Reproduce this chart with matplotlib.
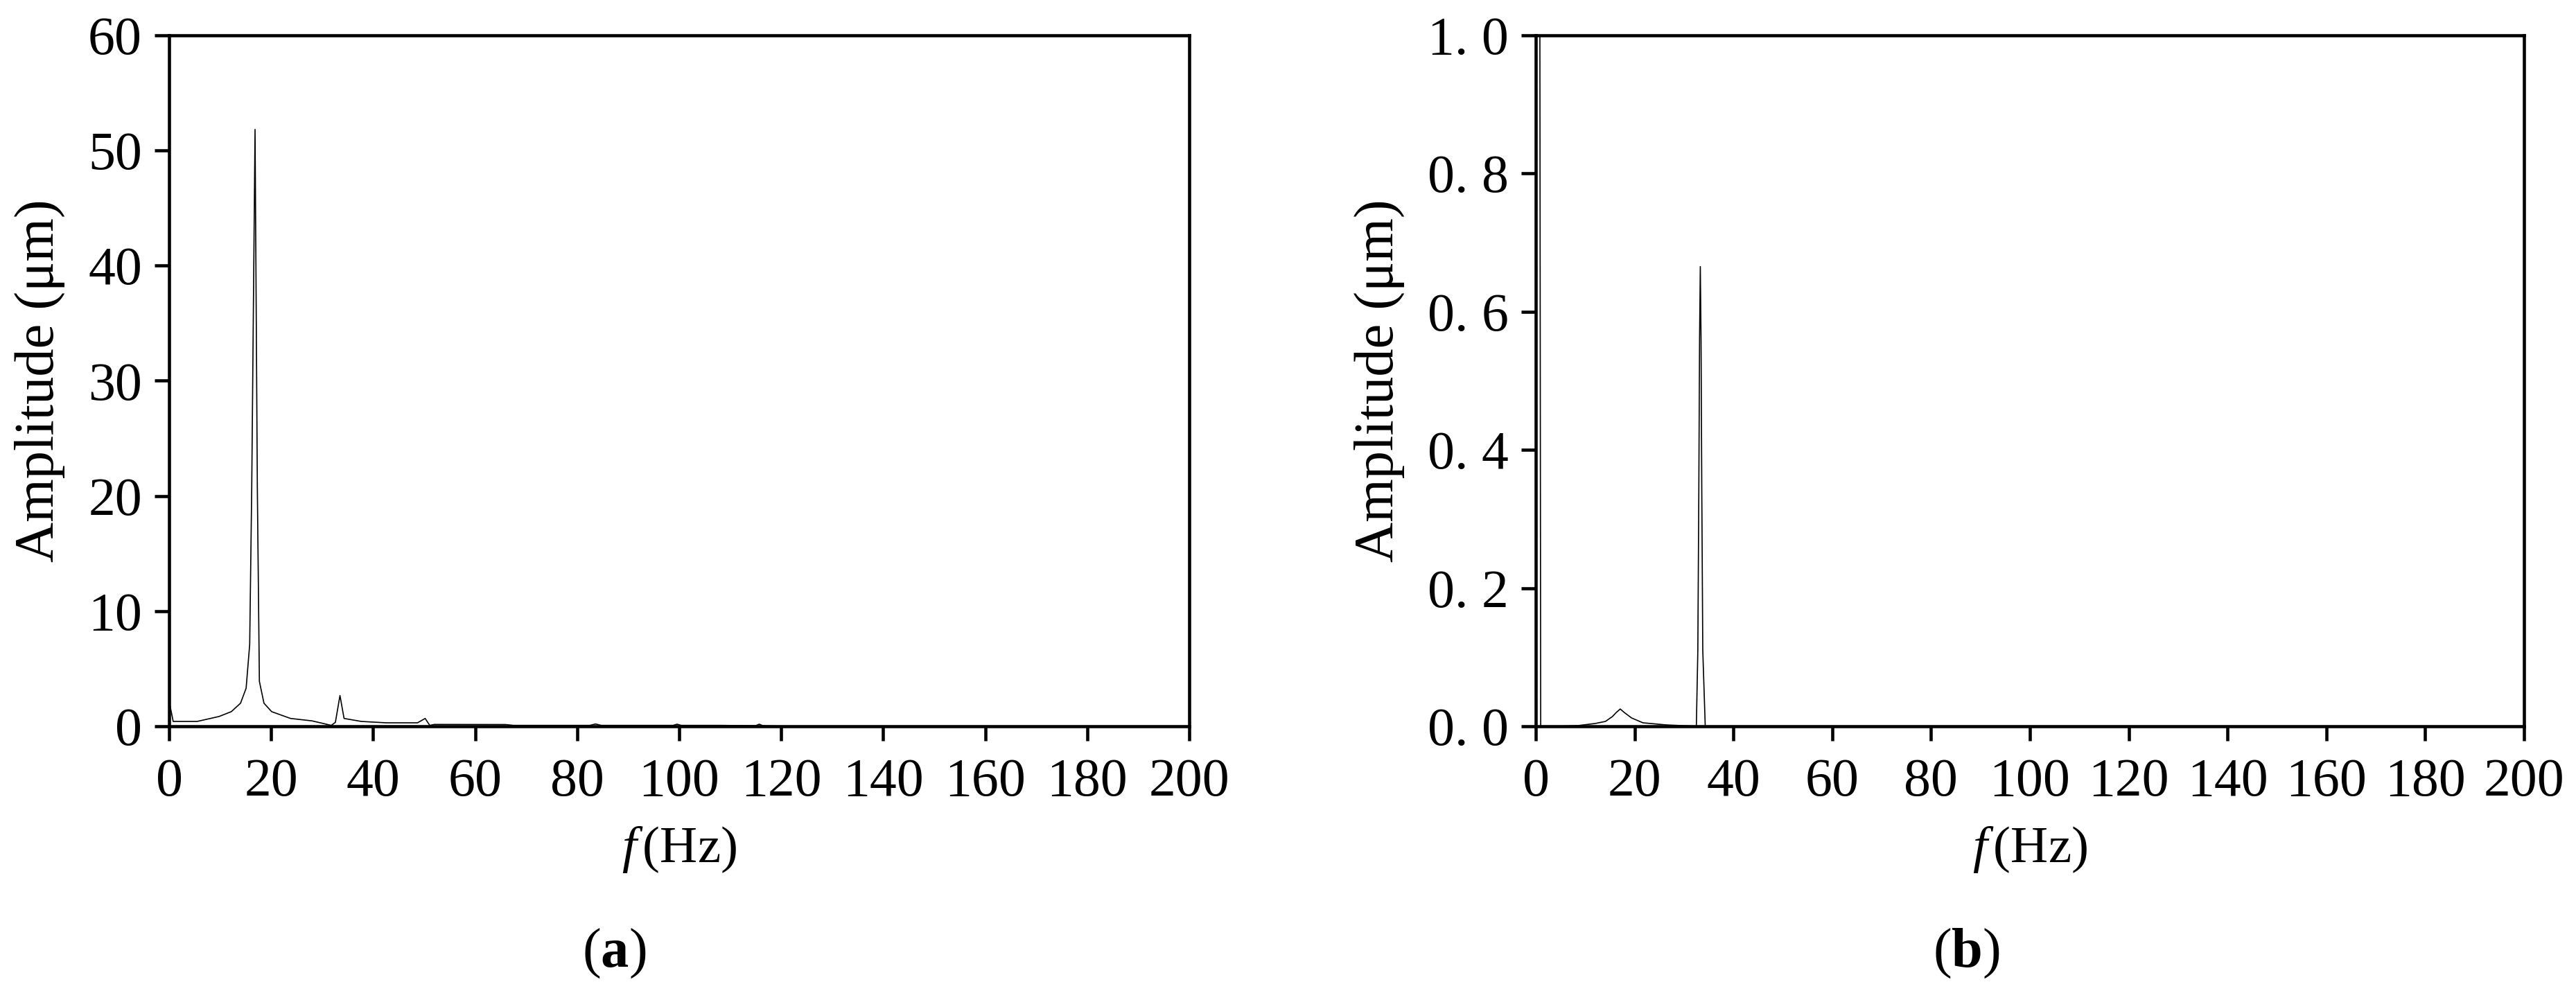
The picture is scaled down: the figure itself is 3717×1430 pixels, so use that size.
import numpy as np
import matplotlib.pyplot as plt

#############################################################

plt.rcParams.update({
    'font.family': 'Liberation Serif',
    'mathtext.fontset': 'custom',
    'mathtext.rm': 'Liberation Serif',
    'mathtext.it': 'Liberation Serif:italic',
    'mathtext.bf': 'Liberation Serif:bold',
    'font.size': 56,
    'xtick.labelsize': 56,
    'ytick.labelsize': 56,
    'axes.labelsize': 58,
})

#############################################################

# (a) amplitude spectrum, main peak near 16.8 Hz
freq_a = [0, 0.8, 5.5, 9.8, 12.2, 14.0, 15.1, 15.8, 16.2, 16.85, 17.3, 17.7,
          18.6, 20.1, 23.8, 28.0, 31.8, 32.6, 33.5, 34.3, 37.7, 42.6, 48.7,
          50.2, 51.1, 52.0, 66.0, 67.5, 82.5, 83.6, 84.7, 98.8, 99.6, 100.4,
          108.0, 115.0, 115.7, 116.4, 120.0, 200.0]
amp_a = [2.2, 0.42, 0.42, 0.85, 1.27, 2.0, 3.3, 7.1, 20.7, 51.8, 20.7, 3.9,
         2.0, 1.27, 0.68, 0.47, 0.08, 0.34, 2.67, 0.68, 0.42, 0.3, 0.3,
         0.68, 0.08, 0.16, 0.15, 0.08, 0.08, 0.2, 0.08, 0.08, 0.18, 0.08,
         0.08, 0.05, 0.18, 0.05, 0.0, 0.0]

# (b) amplitude spectrum, peak near 33.3 Hz
freq_b = [0, 0.5, 1.0, 5.0, 8.5, 12.0, 14.1, 15.5, 16.3, 17.1, 17.9, 19.4,
          21.7, 26.4, 32.5, 32.8, 33.0, 33.15, 33.3, 33.45, 33.6, 33.8, 34.3,
          40.0, 200.0]
amp_b = [0.0, 3.0, 0.0, 0.0, 0.001, 0.004, 0.007, 0.014, 0.02, 0.025, 0.02,
         0.012, 0.005, 0.002, 0.0, 0.11, 0.34, 0.56, 0.665, 0.56, 0.34, 0.11,
         0.0, 0.0, 0.0]

xticks = np.arange(0, 201, 20)
yticks_a = np.arange(0, 61, 10)
yticks_b = [0.0, 0.2, 0.4, 0.6, 0.8, 1.0]
ytick_labels_b = ['0. 0', '0. 2', '0. 4', '0. 6', '0. 8', '1. 0']

#############################################################

W, H = 3717, 1430
fig = plt.figure(figsize=(W / 100, H / 100), dpi=100)

def px_axes(x0, x1, y0, y1):
    # axes box from pixel edges (top-left origin)
    return fig.add_axes([x0 / W, 1 - y1 / H, (x1 - x0) / W, (y1 - y0) / H])

ax1 = px_axes(244, 1716, 50.5, 1048)
ax2 = px_axes(2216, 3642, 50.5, 1048)

def style_axes(ax):
    for sp in ax.spines.values():
        sp.set_linewidth(3.3)
    ax.tick_params(direction='out', length=15, width=3.3)
    ax.tick_params(axis='x', pad=18)
    ax.tick_params(axis='y', pad=13)
    ax.set_xlim(0, 200)
    ax.set_xticks(xticks)
    ax.set_xlabel(r'$f\,$(Hz)', fontsize=54, labelpad=18)
    ax.set_ylabel('Amplitude (\u03bcm)', labelpad=24)

ax1.plot(freq_a, amp_a, color='black', linewidth=1.2)
ax1.set_ylim(0, 60)
ax1.set_yticks(yticks_a)
style_axes(ax1)

ax2.plot(freq_b, amp_b, color='black', linewidth=1.2)
ax2.set_ylim(0, 1.0)
ax2.set_yticks(yticks_b)
ax2.set_yticklabels(ytick_labels_b)
style_axes(ax2)

fig.text(886 / W, 1 - 1395 / H, r'($\mathbf{a}$)', ha='center', va='baseline', fontsize=58)
fig.text(2837 / W, 1 - 1395 / H, r'($\mathbf{b}$)', ha='center', va='baseline', fontsize=58)

fig.savefig('out.png', dpi=100, facecolor='white')
